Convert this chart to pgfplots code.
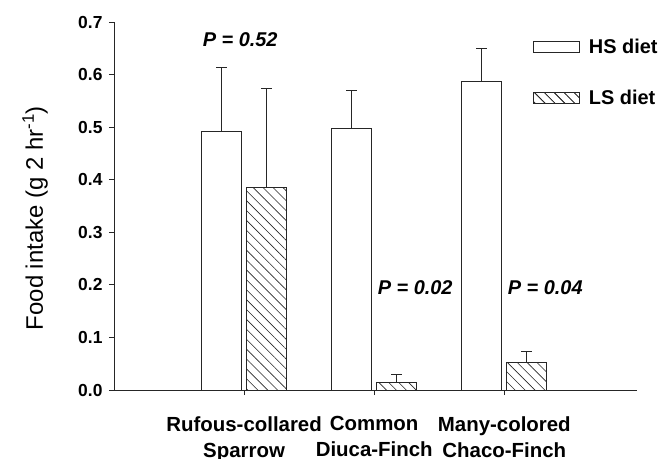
\documentclass[border=0pt]{standalone}
\usepackage{pgfplots}
\pgfplotsset{compat=1.18}
\usepackage{fontspec}
\setmainfont{Liberation Sans}
\usetikzlibrary{patterns.meta}

\begin{document}
\begin{tikzpicture}
\begin{axis}[
  at={(0,0)}, anchor=south west,
  scale only axis, width=523bp, height=368bp,
  xmin=0, xmax=4.02, ymin=0, ymax=0.7,
  axis lines*=left,
  axis line style={line width=0.8bp, black!85},
  tick align=outside,
  major tick length=5bp,
  tick style={line width=0.8bp, black!85},
  xtick={1,2,3},
  xticklabels={{Rufous-collared\\Sparrow},{Common\\Diuca-Finch},{Many-colored\\Chaco-Finch}},
  xticklabel style={align=center, font=\bfseries\fontsize{20.5}{26}\selectfont, yshift=-18bp},
  ytick={0,0.1,0.2,0.3,0.4,0.5,0.6,0.7},
  yticklabel style={font=\bfseries\fontsize{17.5}{20}\selectfont, xshift=-3bp,
    /pgf/number format/fixed, /pgf/number format/fixed zerofill,
    /pgf/number format/precision=1, /pgf/number format/assume math mode=true},
  ylabel={Food intake (g 2 hr\textsuperscript{-1})},
  ylabel style={at={(axis description cs:-0.151,0.467)}, anchor=center, font=\fontsize{24}{28}\selectfont},
  ybar,
  bar width=40bp,
  legend style={at={(0.801,0.957)}, anchor=north west, draw=none, fill=none, inner sep=0pt, row sep=33bp,
    column sep=8bp,
    font=\bfseries\fontsize{20}{24}\selectfont, nodes={inner sep=1bp}},
  legend cell align=left,
]
\addplot[bar shift=-22.5bp, fill=white, draw=black!85, line width=0.8bp,
  legend image code/.code={\draw[fill=white, draw=black!85, line width=0.8bp] (0bp,-5.5bp) rectangle (46bp,5.5bp);},
  error bars/.cd, y dir=plus, y explicit,
  error bar style={line width=0.8bp, black!85},
  error mark=-,
  error mark options={rotate=90, line width=0.8bp, black!85, mark size=5.5bp}]
  coordinates {(1,0.492) +- (0,0.122) (2,0.497) +- (0,0.072) (3,0.587) +- (0,0.063)};
\addlegendentry{HS diet}
\addplot[bar shift=22.5bp, fill=white, draw=black!85, line width=0.8bp,
  postaction={pattern={Lines[angle=-45, distance=7bp, line width=0.6bp]}, pattern color=black!85},
  legend image code/.code={\draw[fill=white, draw=black!85, line width=0.8bp,
     postaction={pattern={Lines[angle=-45, distance=7bp, line width=0.6bp]}, pattern color=black!85}] (0bp,-5.5bp) rectangle (46bp,5.5bp);},
  error bars/.cd, y dir=plus, y explicit,
  error bar style={line width=0.8bp, black!85},
  error mark=-,
  error mark options={rotate=90, line width=0.8bp, black!85, mark size=5.5bp}]
  coordinates {(1,0.386) +- (0,0.187) (2,0.014) +- (0,0.015) (3,0.053) +- (0,0.020)};
\addlegendentry{LS diet}
\node[font=\bfseries\itshape\fontsize{20}{24}\selectfont] at (axis cs:0.97,0.666) {P = 0.52};
\node[font=\bfseries\itshape\fontsize{20}{24}\selectfont] at (axis cs:2.315,0.194) {P = 0.02};
\node[font=\bfseries\itshape\fontsize{20}{24}\selectfont] at (axis cs:3.315,0.194) {P = 0.04};
\end{axis}
\pgfresetboundingbox
\path[use as bounding box] (-114bp,-69bp) rectangle (548bp,390bp);
\end{tikzpicture}
\end{document}
